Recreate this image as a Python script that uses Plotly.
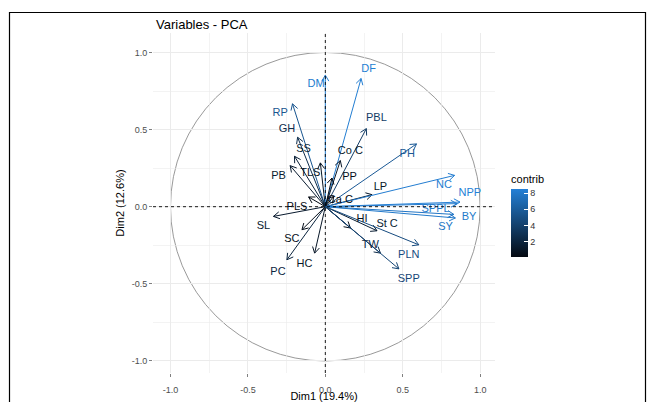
import numpy as np
import plotly.graph_objects as go

# ---- data ----
variables = ["RP", "GH", "SS", "PB", "TLS", "PLS", "SL", "SC", "PC", "HC",
             "DM", "DF", "PBL", "Co C", "PP", "PH", "LP", "Ca C",
             "NC", "NPP", "SPPL", "BY", "SY", "HI", "St C", "TW", "PLN", "SPP"]
dim1 = [-0.212, -0.179, -0.199, -0.227, -0.032, -0.108, -0.335, -0.151, -0.248, -0.069,
        0.000, 0.231, 0.265, 0.097, 0.043, 0.589, 0.302, 0.054,
        0.835, 0.870, 0.850, 0.840, 0.830, 0.162, 0.334, 0.356, 0.604, 0.475]
dim2 = [0.667, 0.450, 0.327, 0.266, 0.284, 0.063, -0.063, -0.149, -0.344, -0.301,
        0.853, 0.831, 0.506, 0.299, 0.186, 0.407, 0.078, 0.067,
        0.203, 0.030, 0.020, -0.073, -0.050, -0.138, -0.156, -0.301, -0.247, -0.403]
label_dim1 = [-0.291, -0.248, -0.140, -0.302, -0.097, -0.183, -0.400, -0.216, -0.306, -0.134,
              -0.060, 0.280, 0.330, 0.162, 0.157, 0.529, 0.356, 0.097,
              0.766, 0.934, 0.712, 0.928, 0.777, 0.237, 0.399, 0.291, 0.539, 0.539]
label_dim2 = [0.608, 0.500, 0.370, 0.197, 0.219, -0.005, -0.128, -0.214, -0.424, -0.370,
              0.792, 0.890, 0.576, 0.359, 0.190, 0.342, 0.125, 0.045,
              0.138, 0.084, -0.019, -0.067, -0.134, -0.084, -0.112, -0.251, -0.312, -0.468]
x_tick_vals = [-1.0, -0.5, 0.0, 0.5, 1.0]
x_tick_text = ["-1.0", "-0.5", "0.0", "0.5", "1.0"]
y_tick_vals = [-1.0, -0.5, 0.0, 0.5, 1.0]
y_tick_text = ["-1.0", "-0.5", "0.0", "0.5", "1.0"]
contrib_ticks = [2, 4, 6, 8]

x_arr = np.array(dim1)
y_arr = np.array(dim2)
sq = x_arr ** 2 + y_arr ** 2
contrib = 100 * sq / sq.sum()
cmin, cmax = float(contrib.min()), float(contrib.max())

low_rgb = np.array([4, 9, 17])
high_rgb = np.array([36, 128, 214])


def col(v):
    t = (v - cmin) / (cmax - cmin)
    c = low_rgb + t * (high_rgb - low_rgb)
    return "rgb(%d,%d,%d)" % tuple(int(round(a)) for a in c)


colors = [col(v) for v in contrib]
FONT = "Liberation Sans, Arial, sans-serif"

fig = go.Figure()

head_len = 0.045
for xi, yi, c in zip(dim1, dim2, colors):
    a = np.arctan2(yi, xi)
    hx1 = xi + head_len * np.cos(a + np.pi - np.pi / 6)
    hy1 = yi + head_len * np.sin(a + np.pi - np.pi / 6)
    hx2 = xi + head_len * np.cos(a + np.pi + np.pi / 6)
    hy2 = yi + head_len * np.sin(a + np.pi + np.pi / 6)
    fig.add_trace(go.Scatter(
        x=[0, xi, None, hx1, xi, hx2], y=[0, yi, None, hy1, yi, hy2],
        mode="lines", line=dict(color=c, width=1),
        hoverinfo="skip", showlegend=False))

fig.add_trace(go.Scatter(
    x=label_dim1, y=label_dim2, mode="text", text=variables,
    textfont=dict(family=FONT, size=11, color=colors),
    hoverinfo="skip", showlegend=False))

# colour bar carrier
fig.add_trace(go.Scatter(
    x=dim1, y=dim2, mode="markers",
    marker=dict(size=0.1, opacity=0, color=contrib, cmin=cmin, cmax=cmax,
                colorscale=[[0, col(cmin)], [1, col(cmax)]], showscale=True,
                colorbar=dict(
                    title=dict(text="contrib", side="top",
                               font=dict(family=FONT, size=11, color="black")),
                    thickness=17, len=85, lenmode="pixels",
                    x=1.047, xanchor="left", y=0.466, yanchor="middle",
                    xpad=0, ypad=0, outlinewidth=0,
                    tickvals=contrib_ticks, ticks="inside", tickcolor="white",
                    ticklen=4, tickfont=dict(family=FONT, size=9, color="#333333"))),
    hoverinfo="skip", showlegend=False))

shapes = [
    dict(type="circle", xref="x", yref="y", x0=-1, y0=-1, x1=1, y1=1,
         line=dict(color="#7f7f7f", width=0.8), layer="below"),
    dict(type="line", xref="x", yref="paper", x0=0, x1=0, y0=0, y1=1,
         line=dict(color="black", width=0.9, dash="3px,3px")),
    dict(type="line", xref="paper", yref="y", x0=0, x1=1, y0=0, y1=0,
         line=dict(color="black", width=0.9, dash="3px,3px")),
    # outer frame of the picture
    dict(type="rect", xref="paper", yref="paper",
         x0=(9.5 - 153) / 342, x1=(645.5 - 153) / 342,
         y0=(373 - 420) / 340, y1=(373 - 12.5) / 340,
         line=dict(color="black", width=1.2)),
]

axis_common = dict(
    showgrid=True, gridcolor="#ebebeb", gridwidth=1, zeroline=False,
    showline=False, ticks="outside", ticklen=3, tickcolor="#7f7f7f",
    tickfont=dict(family=FONT, size=9, color="#4d4d4d"),
    minor=dict(tickvals=[-0.75, -0.25, 0.25, 0.75], showgrid=True,
               gridcolor="#ebebeb", gridwidth=0.6, ticks=""),
)

fig.update_layout(
    width=654, height=402,
    margin=dict(l=153, r=159, t=33, b=29, autoexpand=False),
    paper_bgcolor="white", plot_bgcolor="white",
    font=dict(family=FONT, color="black"),
    title=dict(text="Variables - PCA", x=156 / 654, xanchor="left",
               y=1 - 24 / 402, yanchor="middle",
               font=dict(family=FONT, size=13, color="black")),
    xaxis=dict(range=[-1.113, 1.096], tickvals=x_tick_vals, ticktext=x_tick_text,
               ticklabelstandoff=5,
               title=dict(text="Dim1 (19.4%)", standoff=8,
                          font=dict(family=FONT, size=11, color="black")),
               **axis_common),
    yaxis=dict(range=[-1.078, 1.126], tickvals=y_tick_vals, ticktext=y_tick_text,
               title=dict(text="Dim2 (12.6%)", standoff=4,
                          font=dict(family=FONT, size=11, color="black")),
               **axis_common),
    shapes=shapes,
    showlegend=False,
)

fig.write_html("out.html",
               config={"displayModeBar": False, "staticPlot": True},
               post_script="document.body.style.margin='0px';"
                           "document.body.style.overflow='hidden';")
